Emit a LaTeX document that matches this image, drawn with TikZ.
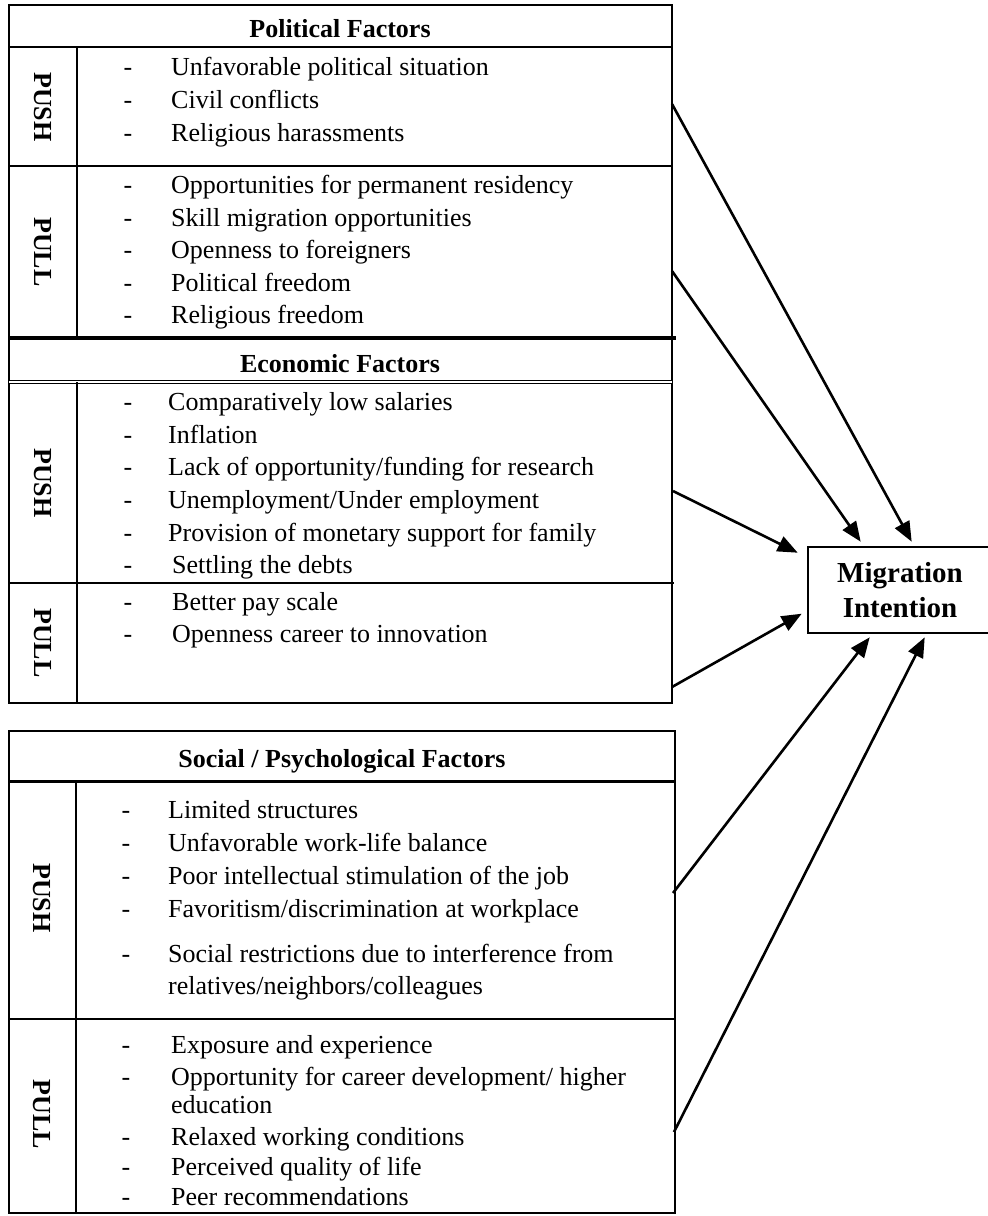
\documentclass[tikz,border=0pt]{standalone}
\usepackage{fontspec}
\setmainfont{Liberation Serif}
\usetikzlibrary{arrows.meta,calc}
\begin{document}
\begin{tikzpicture}[x=1pt,y=-1pt,
  frame/.style={line width=2.6pt},
  item/.style={anchor=base west,inner sep=0pt,font=\fontsize{26}{31}\selectfont},
  dashmark/.style={anchor=base,inner sep=0pt,font=\fontsize{26}{31}\selectfont},
  head/.style={anchor=base,inner sep=0pt,font=\fontsize{26}{31}\selectfont\bfseries},
  side/.style={rotate=-90,inner sep=0pt,font=\fontsize{26}{31}\selectfont\bfseries},
  conn/.style={line width=2.6pt,-{Triangle[length=20pt,width=16pt]}},
]
\useasboundingbox (0,0) rectangle (988,1216);

% ---------- Political + Economic table ----------
\draw[frame] (9,5) rectangle (672,703);
\draw[frame] (9,47) -- (672,47);
\draw[frame] (77,47) -- (77,338);
\draw[frame] (9,166) -- (672,166);
\draw[line width=4.5pt] (9,338) -- (676,338);
\draw[line width=0.9pt,double,double distance=1.6pt] (9,382) -- (672,382);
\draw[frame] (77,382) -- (77,703);
\draw[frame] (9,583) -- (674,583);

\node[head] (hpol) at (340,37) {Political Factors};
\node[side] (ppush) at (43,107) {PUSH};
\node[side] (ppull) at (43,252) {PULL};

\foreach \y/\t [count=\i] in {67/{Unfavorable political situation},100/{Civil conflicts},133/{Religious harassments},185/{Opportunities for permanent residency},218/{Skill migration opportunities},250/{Openness to foreigners},283/{Political freedom},315/{Religious freedom}}{
  \node[dashmark] (pd\i) at (128,\y+8) {-};
  \node[item] (pt\i) at (171,\y+8) {\t};
}

\node[head] (heco) at (340,372) {Economic Factors};
\node[side] (epush) at (43,483) {PUSH};
\node[side] (epull) at (43,643) {PULL};

\foreach \y/\x/\t [count=\i] in {402/168/{Comparatively low salaries},435/168/{Inflation},467/168/{Lack of opportunity/funding for research},500/168/{Unemployment/Under\hspace{7pt}employment},533/168/{Provision of monetary support for family},565/172/{Settling the debts},602/172/{Better pay scale},634/172/{Openness career to innovation}}{
  \node[dashmark] (ed\i) at (128,\y+8) {-};
  \node[item] (et\i) at (\x,\y+8) {\t};
}

% ---------- Social / Psychological table ----------
\draw[frame] (9,731) rectangle (675,1213);
\draw[line width=3pt] (9,781) -- (675,781);
\draw[frame] (76,781) -- (76,1213);
\draw[frame] (9,1019) -- (675,1019);

\node[head] (hsoc) at (342,767) {Social / Psychological Factors};
\node[side] (spush) at (42,898) {PUSH};
\node[side] (spull) at (42,1114) {PULL};

\foreach \y/\x/\t [count=\i] in {810/168/{Limited structures},843/168/{Unfavorable work-life balance},876/168/{Poor intellectual stimulation of the job},909/168/{Favoritism/discrimination\hspace{7pt}at workplace},954/168/{Social restrictions due to interference from},1045/171/{Exposure and experience},1077/171/{Opportunity for career development/ higher},1137/171/{Relaxed working conditions},1167/171/{Perceived quality of life},1197/171/{Peer recommendations}}{
  \node[dashmark] (sd\i) at (126,\y+8) {-};
  \node[item] (st\i) at (\x,\y+8) {\t};
}
\node[item] (scont1) at (168,994) {relatives/neighbors/colleagues};
\node[item] (scont2) at (171,1113) {education};

% ---------- Migration Intention ----------
\node[draw,line width=2.6pt,minimum width=184pt,minimum height=86pt,align=center,
      font=\fontsize{29}{35}\selectfont\bfseries] (mi) at (900,590) {Migration\\Intention};

\coordinate (s1) at (672,104);
\coordinate (s2) at (672,271);
\coordinate (s3) at (673,491);
\coordinate (s4) at (672,687);
\coordinate (s5) at (673,893);
\coordinate (s6) at (674,1132);

\draw[conn] (s1) -- ($(mi.north west)+(105,-4)$);
\draw[conn] (s2) -- ($(mi.north west)+(54,-4)$);
\draw[conn] (s3) -- ($(mi.north west)+(-9,7)$);
\draw[conn] (s4) -- ($(mi.north west)+(-5,68)$);
\draw[conn] (s5) -- ($(mi.south west)+(63,3)$);
\draw[conn] (s6) -- ($(mi.south west)+(118,3)$);
\end{tikzpicture}
\end{document}
